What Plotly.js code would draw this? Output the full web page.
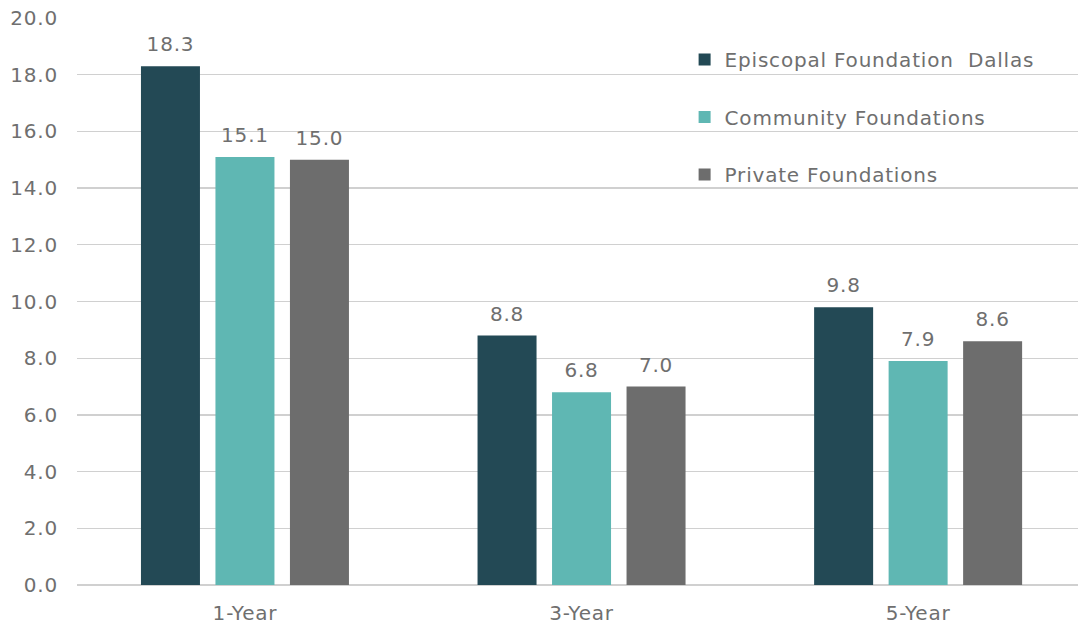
<!DOCTYPE html>
<html>
<head>
<meta charset="utf-8">
<script src="https://cdn.plot.ly/plotly-3.0.1.min.js"></script>
<style>
html,body{margin:0;padding:0;background:#fff;}
#chart{width:1078px;height:625px;}
text{letter-spacing:0.8px;}
#chart text.bartext{translate:0 -7px;}
</style>
</head>
<body>
<div id="chart"></div>
<script>
var categories = ["1-Year", "3-Year", "5-Year"];
var seriesNames = ["Episcopal Foundation\u00a0 Dallas", "Community Foundations", "Private Foundations"];
var episcopal = [18.3, 8.8, 9.8];
var community = [15.1, 6.8, 7.9];
var privateF = [15.0, 7.0, 8.6];
var yTickVals = [0, 2, 4, 6, 8, 10, 12, 14, 16, 18, 20];
var yTickText = ["0.0", "2.0", "4.0", "6.0", "8.0", "10.0", "12.0", "14.0", "16.0", "18.0", "20.0"];

var colors = ["#234955", "#5fb7b3", "#6d6d6d"];
var values = [episcopal, community, privateF];
var font = "DejaVu Sans, Verdana, sans-serif";
var grey = "#6f6f6f";

var traces = values.map(function (v, i) {
  return {
    type: "bar",
    name: seriesNames[i],
    x: categories,
    y: v,
    marker: {color: colors[i]},
    text: v.map(function (d) { return d.toFixed(1); }),
    textposition: "outside",
    textfont: {family: font, size: 20, color: grey},
    cliponaxis: false,
    legendgroup: "g" + i,
    hoverinfo: "skip"
  };
});

var layout = {
  width: 1078, height: 625,
  margin: {l: 77, r: 0, t: 18, b: 40},
  paper_bgcolor: "#fff", plot_bgcolor: "#fff",
  barmode: "group",
  bargap: 0.336,
  bargroupgap: 0.208,
  font: {family: font, size: 20, color: grey},
  xaxis: {
    range: [-0.499, 2.475],
    showgrid: false,
    zeroline: false,
    showline: false,
    ticks: "",
    ticklabelstandoff: 14,
    tickfont: {family: font, size: 20, color: grey}
  },
  yaxis: {
    range: [0, 20],
    tickvals: yTickVals,
    ticktext: yTickText,
    showgrid: true,
    gridcolor: "#d0d0d0",
    gridwidth: 1.3,
    zeroline: true,
    zerolinecolor: "#d0d0d0",
    zerolinewidth: 1.5,
    showline: false,
    ticks: "",
    ticklabelstandoff: 18,
    tickfont: {family: font, size: 20, color: grey}
  },
  showlegend: true,
  legend: {
    x: 0.607, y: 0.961, xanchor: "left", yanchor: "top",
    bgcolor: "rgba(0,0,0,0)",
    font: {family: font, size: 20, color: grey},
    traceorder: "grouped",
    tracegroupgap: 28.5
  }
};

Plotly.newPlot("chart", traces, layout, {staticPlot: true, displayModeBar: false});
</script>
</body>
</html>
